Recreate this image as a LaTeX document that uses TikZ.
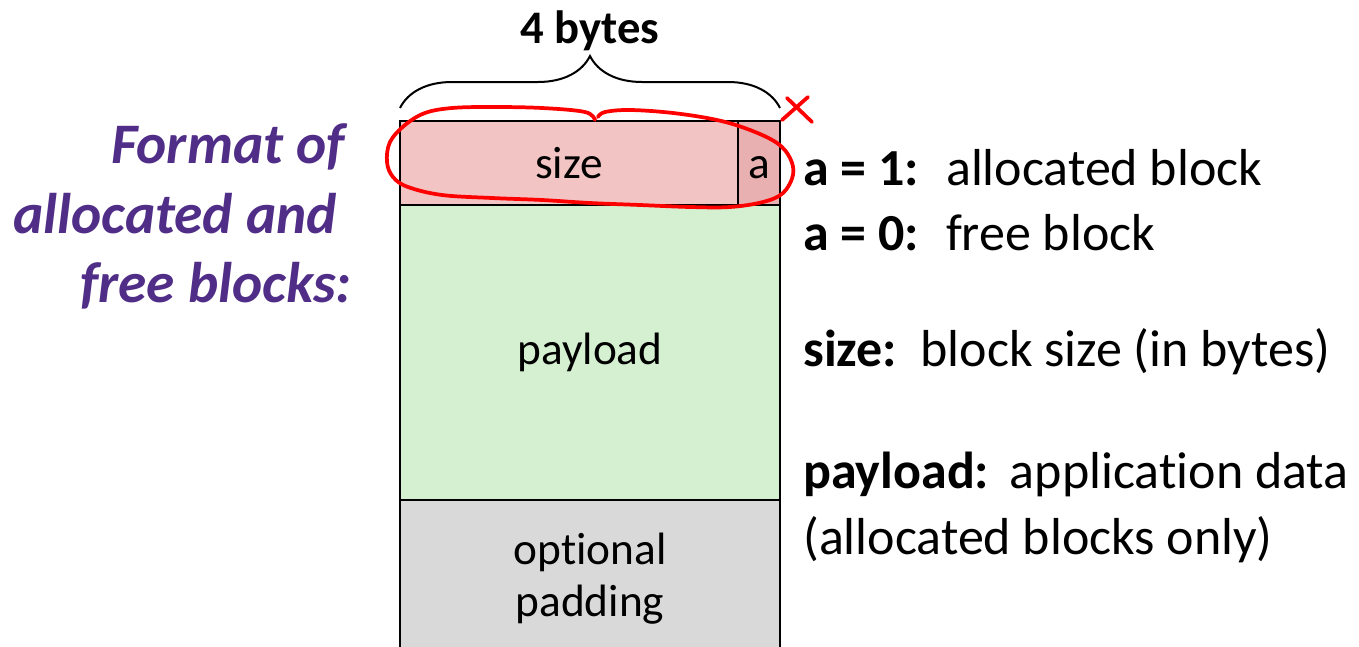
\documentclass[tikz,border=0pt]{standalone}
\usepackage{fontspec}
\setmainfont{Carlito}[Ligatures=NoCommon]
\usetikzlibrary{decorations.pathreplacing}
\definecolor{sizefill}{RGB}{242,196,196}
\definecolor{afill}{RGB}{232,176,176}
\definecolor{payfill}{RGB}{213,240,208}
\definecolor{padfill}{RGB}{217,217,217}
\definecolor{fmtpurple}{RGB}{80,45,135}
\definecolor{penred}{RGB}{255,0,0}
\begin{document}
\begin{tikzpicture}[
          x=0.75pt, y=-0.75pt,
          cell/.style={draw, line width=1.8pt, inner sep=0pt, outer sep=0pt, anchor=north west,
            font=\fontsize{34}{39}\selectfont},
          keytext/.style={anchor=base west, inner sep=0pt, font=\fontsize{39}{47}\selectfont},
          fmttext/.style={anchor=base east, inner sep=0pt, text=fmtpurple,
            font=\fontsize{43}{52}\selectfont\bfseries\itshape},
          scribble/.style={penred, line width=2.8pt, line cap=round, line join=round}
        ]
        \useasboundingbox (0,0) rectangle (1359,646);
        \node[cell, fill=sizefill, minimum width=253.5pt, minimum height=63pt] (size) at (400,121) {size};
        \node[cell, fill=afill, minimum width=31.5pt, minimum height=63pt] (abit) at (size.north east) {a\vphantom{i}};
        \node[cell, fill=payfill, minimum width=285pt, minimum height=221.25pt] (payload) at (size.south west) {payload};
        \node[cell, fill=padfill, minimum width=285pt, minimum height=117.75pt, align=center] (padding)
          at (payload.south west) {optional\\padding};
        \draw[decorate, decoration={brace, amplitude=39pt}, line width=1.5pt]
          ([yshift=9.75pt]size.north west) -- ([yshift=9.75pt]abit.north east);
        \node[anchor=base, inner sep=0pt, font=\fontsize{35}{42}\selectfont\bfseries] (bytes) at (590,43) {4 bytes};
        \draw[scribble] plot[smooth, tension=0.6] coordinates {(595,120) (585,112) (542,108) (492,107)
          (452,108) (425,113) (405,125) (390,142) (387,162) (393,177) (408,187) (442,195) (492,198)
          (542,200) (590,203) (640,205) (690,207) (730,207) (763,202) (783,193) (793,175) (790,158)
          (777,143) (750,130) (717,120) (673,113) (630,110) (605,112) (598,117)};
        \draw[scribble] (782,120) -- (808,97);
        \draw[scribble] (787,98) -- (812,122);
        \node[fmttext] (fmt1) at (345,163) {Format of};
        \node[fmttext] (fmt2) at (337,233) {allocated and};
        \node[fmttext] (fmt3) at (352,302) {free blocks:};
        \node[keytext] (alloc) at (803,185) {\textbf{a = 1:}\hspace{0.52em}allocated block};
        \node[keytext] (free) at (803,250) {\textbf{a = 0:}\hspace{0.52em}free block};
        \node[keytext] (sizekey) at (803,366) {\textbf{size:}\hspace{0.45em}block size (in bytes)};
        \node[keytext] (paykey) at (803,488) {\textbf{payload:}\hspace{0.4em}application data};
        \node[keytext] (paynote) at (803,554) {(allocated blocks only)};
        \end{tikzpicture}
\end{document}
